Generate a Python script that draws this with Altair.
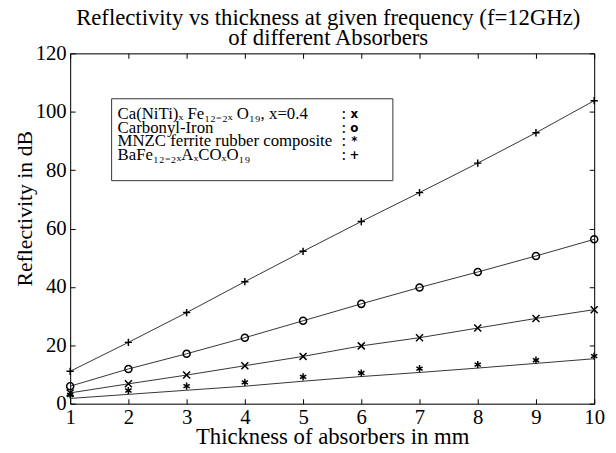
import altair as alt
import pandas as pd

# ---- data ----
thickness = [1, 2, 3, 4, 5, 6, 7, 8, 9, 10]
ca_niti = [3.7, 6.8, 9.8, 13.0, 16.2, 19.8, 22.6, 25.9, 29.2, 32.2]
carbonyl = [6.0, 11.9, 17.1, 22.6, 28.4, 34.2, 39.8, 45.1, 50.6, 56.3]
mnzc = [3.0, 4.5, 6.0, 7.3, 9.2, 10.5, 12.0, 13.4, 14.9, 16.3]
mnzc_fit = [1.8, 3.2, 4.6, 6.0, 7.7, 9.3, 10.7, 12.2, 13.8, 15.4]
bafe = [11.1, 21.0, 31.2, 41.8, 52.2, 62.4, 72.3, 82.4, 92.8, 103.8]

series = ["ca", "carbonyl", "mnzc", "bafe"]
legend_labels = [
    "Ca(NiTi)ₓ Fe₁₂₋₂ₓ O₁₉, x=0.4",
    "Carbonyl-Iron",
    "MNZC ferrite rubber composite",
    "BaFe₁₂₋₂ₓAₓCOₓO₁₉",
]
legend_glyphs = ["x", "o", "*", "+"]
y_ticks = [0, 20, 40, 60, 80, 100, 120]
title_lines = ["Reflectivity vs thickness at given frequency (f=12GHz)",
               "of different Absorbers"]

point_values = {"ca": ca_niti, "carbonyl": carbonyl, "mnzc": mnzc, "bafe": bafe}
line_values = {"ca": ca_niti, "carbonyl": carbonyl, "mnzc": mnzc_fit, "bafe": bafe}

pts = pd.DataFrame([
    {"thickness": t, "value": v, "series": s}
    for s in series for t, v in zip(thickness, point_values[s])
])
lns = pd.DataFrame([
    {"thickness": t, "value": v, "series": s}
    for s in series for t, v in zip(thickness, line_values[s])
])

FONT = "Liberation Serif"
xs = alt.Scale(domain=[1, 10], nice=False, zero=False)
ys = alt.Scale(domain=[0, 120], nice=False)

common_axis = dict(
    ticks=False, tickSize=0, grid=True, gridDash=[5, 2000], gridColor="black",
    gridWidth=1, gridOpacity=1, domainColor="black", domainWidth=1,
    labelColor="black", titleColor="black", labelFont=FONT, titleFont=FONT,
    labelFontSize=21, titleFontWeight="normal",
)

x_axis = alt.Axis(values=thickness, title="Thickness of absorbers in mm",
                  labelPadding=3, labelFlush=False, labelOverlap=False,
                  titleFontSize=23, titleY=40.7, titleBaseline="alphabetic",
                  **common_axis)
y_axis = alt.Axis(values=y_ticks, title="Reflectivity in dB", labelPadding=4,
                  labelFlush=False, labelOverlap=False, titleFontSize=22,
                  titleX=-39, titleY=157, titleBaseline="alphabetic",
                  **common_axis)

lines = alt.Chart(lns).mark_line(color="#333333", strokeWidth=1).encode(
    x=alt.X("thickness:Q", scale=xs, axis=x_axis),
    y=alt.Y("value:Q", scale=ys, axis=y_axis),
    detail="series:N",
)

x_path = "M-1,-1L1,1M-1,1L1,-1"
plus_path = "M-1,0L1,0M0,-1L0,1"
star_path = "M0,-1L0,1M-0.87,-0.5L0.87,0.5M-0.87,0.5L0.87,-0.5"

points = alt.Chart(pts).mark_point(filled=False, color="black", strokeWidth=1.5,
                                   opacity=1).encode(
    x=alt.X("thickness:Q", scale=xs, axis=None),
    y=alt.Y("value:Q", scale=ys, axis=None),
    shape=alt.Shape("series:N", scale=alt.Scale(
        domain=series, range=[x_path, "circle", star_path, plus_path]), legend=None),
    size=alt.Size("series:N", scale=alt.Scale(
        domain=series, range=[50, 55, 22, 64]), legend=None),
)

frame_axis = dict(labels=False, title=None, **{k: v for k, v in common_axis.items()})
frame = alt.Chart(lns).mark_line(opacity=0).encode(
    x=alt.X("thickness:Q", scale=xs,
            axis=alt.Axis(orient="top", values=thickness, **frame_axis)),
    y=alt.Y("value:Q", scale=ys,
            axis=alt.Axis(orient="right", values=y_ticks, **frame_axis)),
    detail="series:N",
)

one = pd.DataFrame({"k": [0]})
legend_box = alt.Chart(one).mark_rect(fill="white", stroke="#333333",
                                      strokeWidth=1).encode(
    x=alt.value(42), x2=alt.value(327), y=alt.value(46), y2=alt.value(129))

legend_layers = [legend_box]
row_y = [66.7, 80.5, 94.3, 108.1]
for lab, gly, yy in zip(legend_labels, legend_glyphs, row_y):
    legend_layers.append(alt.Chart(one).mark_text(
        align="left", baseline="alphabetic", font=FONT, fontSize=17,
        color="black").encode(x=alt.value(48), y=alt.value(yy), text=alt.value(lab)))
    legend_layers.append(alt.Chart(one).mark_text(
        align="left", baseline="alphabetic", font=FONT, fontSize=17,
        color="black").encode(x=alt.value(275), y=alt.value(yy), text=alt.value(":")))
    legend_layers.append(alt.Chart(one).mark_text(
        align="center", baseline="alphabetic", font="DejaVu Sans", fontSize=12,
        fontWeight="bold", color="black").encode(
        x=alt.value(288), y=alt.value(yy - 1), text=alt.value(gly)))

chart = alt.layer(frame, lines, points, *legend_layers).resolve_axis(
    x="independent", y="independent"
).properties(
    width=531, height=355,
    title=alt.TitleParams(text=title_lines, font=FONT, fontSize=23,
                          fontWeight="normal", color="black", anchor="middle",
                          lineHeight=21, offset=6, dy=14, dx=-4),
    autosize=alt.AutoSizeParams(type="none"),
    padding={"left": 63, "top": 43, "right": 14, "bottom": 47},
).configure_view(stroke=None).configure(background="white")

chart.save("out.html", embed_options={"renderer": "svg", "actions": False})
